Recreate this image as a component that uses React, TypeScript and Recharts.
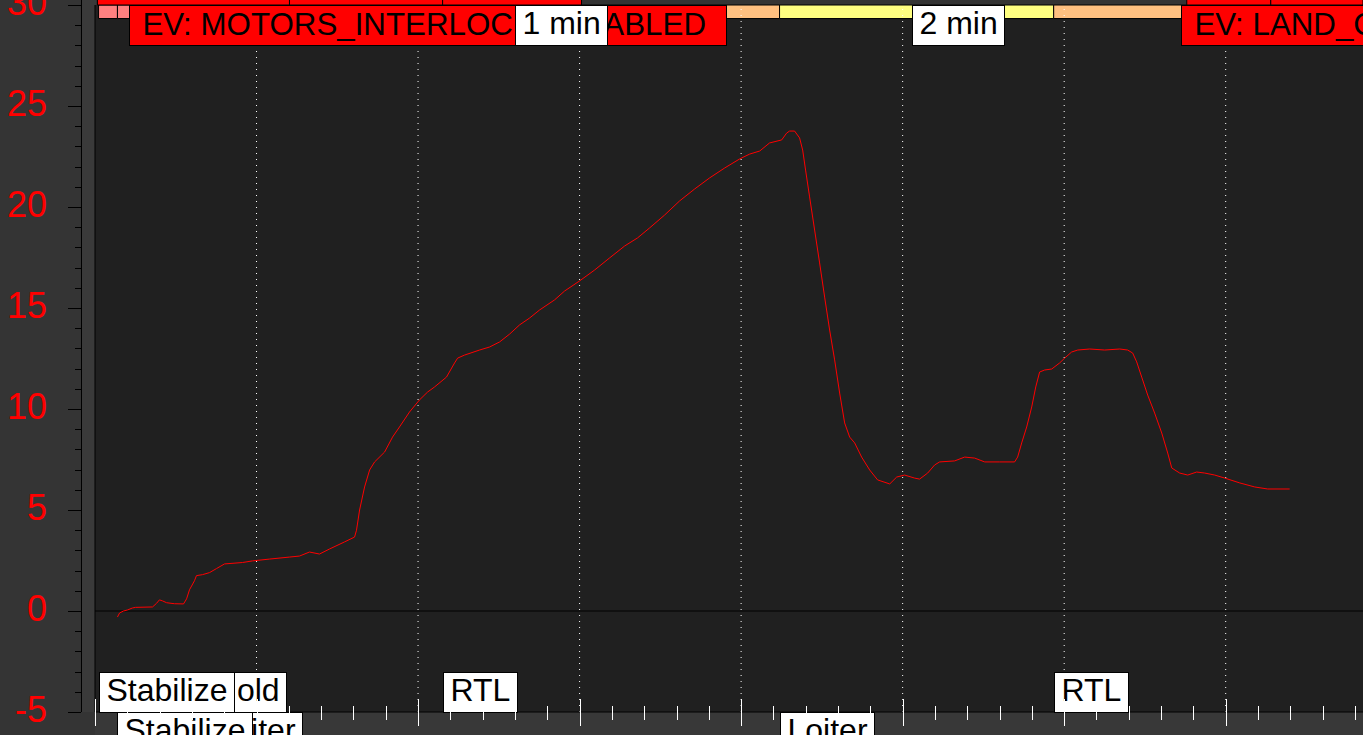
import {
  LineChart, Line, XAxis, YAxis, CartesianGrid, ReferenceLine, ReferenceArea, ReferenceDot,
} from "recharts";

// altitude trace: time (grid units, 1 grid = 10) vs altitude
const TIME = [
  1.39, 1.52, 1.76, 2.01, 2.32, 2.51, 3.56, 3.81, 3.99, 4.18, 4.43, 4.92, 5.48, 5.67, 5.85,
  6.16, 6.28, 6.66, 7.09, 7.52, 8.02, 9.13, 9.75, 10.8, 12.04, 12.66, 13.28, 13.9, 14.52,
  15.45, 16.07, 16.19, 16.38, 16.69, 17.0, 17.31, 17.93, 18.42, 18.85, 19.47, 20.09, 20.59,
  21.02, 21.76, 22.26, 22.45, 22.88, 23.81, 24.43, 25.05, 25.67, 26.28, 26.9, 27.52, 28.45,
  29.07, 30.0, 30.93, 31.86, 32.79, 33.59, 34.33, 35.26, 36.19, 37.12, 38.05, 38.98, 39.91,
  40.53, 41.15, 41.76, 42.51, 42.82, 43.0, 43.31, 43.62, 43.81, 43.99, 44.24, 44.55, 44.86,
  45.17, 45.48, 45.79, 46.1, 46.41, 46.72, 47.03, 47.46, 47.96, 48.45, 49.2, 49.63, 50.12,
  50.74, 51.05, 51.55, 51.98, 52.29, 53.22, 53.84, 54.46, 55.08, 56.01, 56.93, 57.12, 57.37,
  57.68, 57.99, 58.24, 58.48, 58.79, 59.23, 59.72, 60.03, 60.46, 60.84, 61.58, 62.51, 63.44,
  63.93, 64.24, 64.49, 64.8, 65.17, 65.6, 66.04, 66.41, 66.66, 67.15, 67.65, 68.2, 68.7,
  69.32, 69.94, 70.87, 71.8, 72.6, 73.96,
];
const ALT = [
  -0.3, -0.1, 0.0, 0.05, 0.15, 0.18, 0.2, 0.38, 0.55, 0.5, 0.41, 0.36, 0.35, 0.6, 1.05,
  1.5, 1.75, 1.8, 1.9, 2.1, 2.33, 2.4, 2.48, 2.57, 2.67, 2.72, 2.92, 2.82, 3.07,
  3.42, 3.66, 4.0, 5.0, 6.14, 6.98, 7.38, 7.87, 8.61, 9.11, 9.85, 10.45, 10.84,
  11.09, 11.58, 12.28, 12.52, 12.67, 12.92, 13.07, 13.32, 13.71, 14.16, 14.5, 14.9, 15.4,
  15.84, 16.34, 16.88, 17.48, 18.07, 18.47, 18.96, 19.6, 20.3, 20.89, 21.44, 21.93, 22.38,
  22.62, 22.77, 23.17, 23.32, 23.66, 23.76, 23.76, 23.42, 22.82, 21.83, 20.5, 18.86, 17.23,
  15.54, 13.91, 12.43, 10.79, 9.31, 8.61, 8.32, 7.62, 6.98, 6.49, 6.29, 6.63, 6.73,
  6.58, 6.53, 6.83, 7.23, 7.38, 7.43, 7.62, 7.57, 7.38, 7.38, 7.38, 7.62, 8.32,
  9.11, 10.1, 11.09, 11.83, 11.93, 11.98, 12.28, 12.52, 12.82, 12.92, 12.97, 12.92, 12.97,
  12.92, 12.77, 12.33, 11.58, 10.69, 9.8, 8.81, 7.82, 7.08, 6.83, 6.73, 6.88, 6.83,
  6.73, 6.58, 6.34, 6.14, 6.04, 6.04,
];

const Y_TICKS = [
  -5, -4, -3, -2, -1, 0, 1, 2, 3, 4, 5, 6, 7, 8, 9, 10, 11, 12, 13, 14, 15, 16, 17, 18, 19,
  20, 21, 22, 23, 24, 25, 26, 27, 28, 29, 30,
];
const X_TICKS = [
  0, 2, 4, 6, 8, 10, 12, 14, 16, 18, 20, 22, 24, 26, 28, 30, 32, 34, 36, 38, 40, 42, 44, 46,
  48, 50, 52, 54, 56, 58, 60, 62, 64, 66, 68, 70, 72, 74, 76, 78,
];
const GRID_T = [10, 20, 30, 40, 50, 60, 70];

// flight modes
const MODE_NAMES = ["Stabilize", "Stabilize", "AltHold", "Loiter", "RTL", "Loiter", "RTL"];
const MODE_START = [0.22, 1.39, 4.61, 6.97, 21.52, 42.38, 59.35];
const X_END = 78.5;

// events and time marks along the top
const EVENT_NAMES = ["EV: MOTORS_INTERLOCK_DISABLED", "EV: LAND_COMPLETE"];
const EVENT_T = [2.08, 67.21];
const TIME_MARKS = ["1 min", "2 min"];
const TIME_MARK_T = [25.98, 50.56];
// event boxes in the row above (only their bottom edge shows)
const UPPER_START = [0.15, 12.04, 21.52, 67.59, 72.79];
const UPPER_END = [12.04, 21.52, 30.12, 72.79, 78.5];

const MODE_COLORS: Record<string, string> = {
  Stabilize: "#ff8080", AltHold: "#80ff80", Loiter: "#ffff80", RTL: "#ffc080",
};
const FONT = '"Liberation Sans", Arial, sans-serif';
const TAG_SIZE = 32;
const EV_SIZE = 31.3;

const data = TIME.map((t, i) => ({ t, alt: ALT[i] }));

let ctx: CanvasRenderingContext2D | null = null;
function textWidth(s: string, size: number) {
  if (!ctx) ctx = document.createElement("canvas").getContext("2d");
  if (!ctx) return s.length * size * 0.6;
  ctx.font = `${size}px "Liberation Sans"`;
  return ctx.measureText(s).width;
}

function tagShape(text: string, kind: "ev" | "mode" | "time", row: "top" | "low1" | "low2") {
  return (p: any) => {
    const size = kind === "ev" ? EV_SIZE : TAG_SIZE;
    const padL = kind === "ev" ? 13 : 7;
    const padR = kind === "ev" ? 21 : 7;
    const w = Math.round(textWidth(text, size) + padL + padR);
    const x = Math.round(p.cx) + 0.5;
    const top = (row === "low1" ? Math.round(p.cy) - 40 : Math.round(p.cy)) + 0.5;
    return (
      <g>
        <rect x={x} y={top} width={w} height={40} fill={kind === "ev" ? "#ff0000" : "#ffffff"} stroke="#000" />
        <text x={x + padL} y={top + (kind === "ev" ? 29 : 28)} fontSize={size} fontFamily={FONT} fill="#000">
          {text}
        </text>
      </g>
    );
  };
}

function YTick({ x, y, payload }: any) {
  const v = payload.value;
  const major = v % 5 === 0;
  const yy = Math.round(y) + 0.5;
  return (
    <g>
      <line x1={x - (major ? 27 : 20)} x2={x - 14} y1={yy} y2={yy} stroke="#000" />
      {major && (
        <text x={x - 48} y={y + 10} textAnchor="end" fill="#ff0000" fontSize={36} fontFamily={FONT}>
          {v}
        </text>
      )}
    </g>
  );
}

function XTick({ x, y, payload }: any) {
  const major = payload.value % 10 === 0;
  const xx = Math.round(x) + 0.5;
  return <line x1={xx} x2={xx} y1={y - (major ? 13 : 6)} y2={y + (major ? 14 : 8)} stroke="#fff" />;
}

export default function App() {
  const modeOrder = MODE_NAMES.map((_, i) => i).reverse();
  return (
    <div style={{ position: "absolute", left: 0, top: 0, width: 1363, height: 735, overflow: "hidden", background: "#343434" }}>
      <div style={{ position: "absolute", left: 81, top: 0, width: 14, height: 712, background: "#3a3a3a", borderLeft: "1px solid #000" }} />
      <div style={{ position: "absolute", left: 95, top: 712, width: 1268, height: 23, background: "#383838" }} />
      <LineChart width={1363} height={735} data={data} margin={{ top: 5, right: 0, bottom: 0, left: 0 }}>
        <CartesianGrid fill="#202020" fillOpacity={1} horizontal={false} vertical={false} />
        <XAxis
          dataKey="t" type="number" domain={[0, X_END]} ticks={X_TICKS} interval={0}
          height={23} tickSize={0} tickMargin={0} tickLine={false} axisLine={{ stroke: "#000" }}
          tick={<XTick />}
        />
        <YAxis
          type="number" domain={[-5, 30]} ticks={Y_TICKS} interval={0} width={95}
          tickSize={0} tickMargin={0} tickLine={false} axisLine={{ stroke: "#000" }}
          tick={<YTick />}
        />
        {MODE_NAMES.map((m, i) => (
          <ReferenceArea
            key={"mode" + i} x1={MODE_START[i]} x2={i + 1 < MODE_START.length ? MODE_START[i + 1] : X_END}
            y1={29.33} y2={30} fill={MODE_COLORS[m]} fillOpacity={1} stroke="#000" ifOverflow="visible"
          />
        ))}
        {UPPER_START.map((s, i) => (
          <ReferenceArea
            key={"up" + i} x1={s} x2={UPPER_END[i]} y1={30} y2={32}
            fill="#ff0000" fillOpacity={1} stroke="#000" ifOverflow="visible"
          />
        ))}
        {GRID_T.map((g) => (
          <ReferenceLine key={"g" + g} x={g} stroke="#ffffff" strokeDasharray="1 5" />
        ))}
        <ReferenceLine y={0} stroke="#000" />
        <Line type="linear" dataKey="alt" stroke="#ff0000" strokeWidth={1} dot={false} isAnimationActive={false} />
        {EVENT_NAMES.map((e, i) => (
          <ReferenceDot key={"ev" + i} x={EVENT_T[i]} y={30} r={0} ifOverflow="visible" shape={tagShape(e, "ev", "top")} />
        ))}
        {TIME_MARKS.map((s, i) => (
          <ReferenceDot key={"tm" + i} x={TIME_MARK_T[i]} y={30} r={0} ifOverflow="visible" shape={tagShape(s, "time", "top")} />
        ))}
        {modeOrder.map((i) => (
          <ReferenceDot
            key={"ml" + i} x={MODE_START[i]} y={-5} r={0} ifOverflow="visible"
            shape={tagShape(MODE_NAMES[i], "mode", i % 2 === 0 ? "low1" : "low2")}
          />
        ))}
      </LineChart>
    </div>
  );
}
